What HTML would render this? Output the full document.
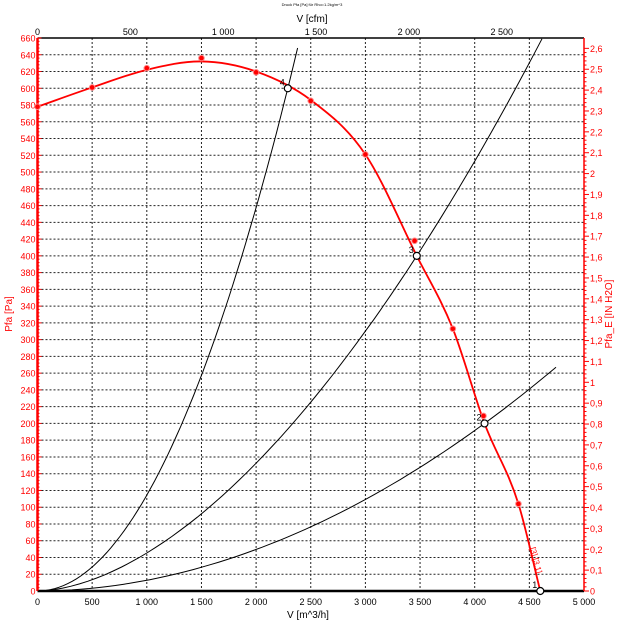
<!DOCTYPE html>
<html><head><meta charset="utf-8"><style>
html,body{margin:0;padding:0;background:#fff;}
svg{display:block;font-family:"Liberation Sans",sans-serif;}
</style></head><body>
<svg id="s" width="624" height="624" viewBox="0 0 624 624" xmlns="http://www.w3.org/2000/svg"></svg>
<script>
const s=document.getElementById('s');
const X0=37.5,X1=584,Y0=591,Y1=38;
const X=v=>X0+(X1-X0)*v/5000, Y=p=>Y0-(Y0-Y1)*p/660;
let h='';
for(let v=500;v<5000;v+=500)h+=`<line x1="${X(v)}" y1="${Y1}" x2="${X(v)}" y2="${Y0}" stroke="#222" stroke-width="1" stroke-dasharray="2,2"/>`;
for(let p=20;p<=660;p+=20)h+=`<line x1="${X0}" y1="${Y(p)}" x2="${X1}" y2="${Y(p)}" stroke="#222" stroke-width="1" stroke-dasharray="2,2"/>`;
h+=`<line x1="${X0}" y1="${Y1}" x2="${X1}" y2="${Y1}" stroke="#000" stroke-width="1.5"/>`;
h+=`<line x1="${X0}" y1="${Y0}" x2="${X1}" y2="${Y0}" stroke="#000" stroke-width="2.5"/>`;
h+=`<line x1="${X0}" y1="${Y1}" x2="${X0}" y2="${Y0}" stroke="red" stroke-width="2.5"/>`;
h+=`<line x1="${X1}" y1="${Y1}" x2="${X1}" y2="${Y0}" stroke="red" stroke-width="1.5"/>`;
for(let p=0;p<=660;p+=4){h+=`<line x1="${X0}" y1="${Y(p)}" x2="${X0+(p%20?2:4)}" y2="${Y(p)}" stroke="red"/>`;}
for(let p=0;p<=660;p+=20)h+=`<text x="${X0-2}" y="${Y(p)+3.5}" font-size="9" fill="red" text-anchor="end">${p}</text>`;
for(let i=0;i<=26;i++){const p=i*0.1*249.09;const y=Y(p);h+=`<line x1="${X1}" y1="${y}" x2="${X1+5}" y2="${y}" stroke="red"/>`;
h+=`<text x="${X1+6}" y="${y+3.5}" font-size="9" fill="red">${i==0?'0':(i%10==0?(i/10):(Math.floor(i/10)+','+(i%10)))}</text>`;
for(let k=1;k<5&&i<26;k++){const yy=Y(p+k*0.02*249.09);h+=`<line x1="${X1}" y1="${yy}" x2="${X1+2.5}" y2="${yy}" stroke="red"/>`;}}
const fmt=v=>v>=1000?Math.floor(v/1000)+' '+String(v%1000).padStart(3,'0'):String(v);
for(let v=0;v<=5000;v+=500)h+=`<text x="${X(v)}" y="605" font-size="9" text-anchor="middle">${fmt(v)}</text>`;
for(let c=0;c<=2500;c+=500){const x=X(c*1.699);h+=`<text x="${x}" y="35" font-size="9" text-anchor="middle">${fmt(c)}</text>`;}
h+=`<text x="308" y="618" font-size="10" text-anchor="middle">V  [m^3/h]</text>`;
h+=`<text x="312" y="22" font-size="10" text-anchor="middle">V  [cfm]</text>`;
h+=`<text x="312" y="6" font-size="4" text-anchor="middle">Druck Pfa [Pa] für Rho=1.2kg/m^3</text>`;
h+=`<text transform="translate(12,314) rotate(-90)" font-size="10" fill="red" text-anchor="middle">Pfa [Pa]</text>`;
h+=`<text transform="translate(612,314) rotate(-90)" font-size="10" fill="red" text-anchor="middle">Pfa_E [IN H2O]</text>`;
function sys(V0,P0,n,Vend){let d='';for(let i=0;i<=60;i++){const v=Vend*i/60;const p=P0*Math.pow(v/V0,n);d+=(i?'L':'M')+X(v).toFixed(1)+','+Y(p).toFixed(1);}return `<path d="${d}" fill="none" stroke="#000" stroke-width="1"/>`;}
h+=sys(2290,600,2,2380);
h+=sys(3470,400,1.75,4616);
h+=sys(4090,200,1.95,4744);
// fan curve: Hermite in data x
const D=[[0,578],[500,601],[1000,622],[1500,632],[2000,620],[2500,586],[3000,521],[3470,400],[3800,313],[4090,200],[4400,104],[4600,0]];
const n=D.length,sec=[],m=[];
for(let i=0;i<n-1;i++)sec.push((D[i+1][1]-D[i][1])/(D[i+1][0]-D[i][0]));
for(let i=0;i<n;i++)m.push(i==0?sec[0]:i==n-1?sec[n-2]:(sec[i-1]+sec[i])/2);
let d=`M${X(D[0][0])},${Y(D[0][1])}`;
for(let i=0;i<n-1;i++){const dx=D[i+1][0]-D[i][0];
d+=`C${X(D[i][0]+dx/3)},${Y(D[i][1]+m[i]*dx/3)} ${X(D[i+1][0]-dx/3)},${Y(D[i+1][1]-m[i+1]*dx/3)} ${X(D[i+1][0])},${Y(D[i+1][1])}`;}
h+=`<path d="${d}" fill="none" stroke="red" stroke-width="1.8"/>`;
[[0,578],[500,601],[1000,624],[1500,636],[2000,619],[2500,585],[3000,521],[3450,418],[3800,313],[4080,209],[4400,104]].forEach(a=>{h+=`<circle cx="${X(a[0])}" cy="${Y(a[1])}" r="2.8" fill="red" stroke="#f88" stroke-width="1"/>`;});
[[2290,600,'4'],[3470,400,'3'],[4090,200,'2'],[4600,0,'1']].forEach(a=>{h+=`<circle cx="${X(a[0])}" cy="${Y(a[1])}" r="3.5" fill="#fff" stroke="#000" stroke-width="1.2"/><text x="${X(a[0])-8}" y="${Y(a[1])-3}" font-size="9">${a[2]}</text>`;});
h+=`<text transform="translate(530,548) rotate(75)" font-size="8" fill="red">[3] [3.1]</text>`;
s.innerHTML=h;
</script>
</body></html>
